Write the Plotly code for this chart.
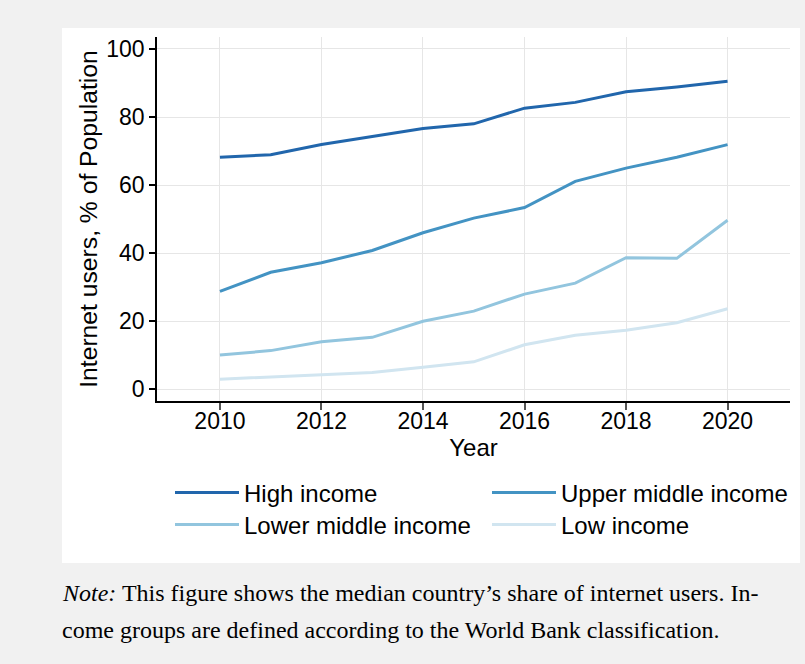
import plotly.graph_objects as go

# Median share of internet users by World Bank income group, 2010-2020
years = [2010, 2011, 2012, 2013, 2014, 2015, 2016, 2017, 2018, 2019, 2020]

high_income = [68.2, 68.9, 71.9, 74.3, 76.6, 78.0, 82.6, 84.3, 87.4, 88.8, 90.5]
upper_middle_income = [28.8, 34.4, 37.2, 40.8, 46.0, 50.3, 53.4, 61.1, 65.0, 68.2, 71.9]
lower_middle_income = [10.1, 11.4, 14.0, 15.3, 20.0, 23.0, 28.0, 31.2, 38.7, 38.5, 49.7]
low_income = [3.0, 3.6, 4.4, 5.0, 6.5, 8.1, 13.1, 15.9, 17.4, 19.6, 23.7]

series_names = ["High income", "Upper middle income", "Lower middle income", "Low income"]
series_values = [high_income, upper_middle_income, lower_middle_income, low_income]
series_colors = ["#2166ac", "#4393c3", "#92c5de", "#d1e5f0"]

x_ticks = [2010, 2012, 2014, 2016, 2018, 2020]
y_ticks = [0, 20, 40, 60, 80, 100]

note_line1 = "<i>Note:</i> This figure shows the median country\u2019s share of internet users. In-"
note_line2 = "come groups are defined according to the World Bank classification."

SANS = "Liberation Sans, Arial, sans-serif"
SERIF = "Liberation Serif, Times New Roman, serif"

W, H = 805, 664
L, R, T, B = 157, 15, 37, 263
pw, ph = W - L - R, H - T - B


def px_x(X):
    return (X - L) / pw


def px_y(Y):
    return (H - B - Y) / ph


# one legend box per entry, laid out as a 2x2 grid under the axes
legend_ids = ["legend", "legend2", "legend3", "legend4"]
legend_pos = [(170, 493), (487, 493), (170, 525), (487, 525)]

fig = go.Figure()
for name, vals, color, lg in zip(series_names, series_values, series_colors, legend_ids):
    fig.add_trace(go.Scatter(
        x=years, y=vals, mode="lines", name=name,
        line=dict(color=color, width=3),
        legend=lg,
    ))

legend_common = dict(
    orientation="h", xanchor="left", yanchor="middle",
    font=dict(family=SANS, size=24, color="black"),
    bgcolor="rgba(0,0,0,0)", borderwidth=0,
    itemwidth=64,
)
legend_layout = {
    lg: dict(x=px_x(px), y=px_y(py), **legend_common)
    for lg, (px, py) in zip(legend_ids, legend_pos)
}

fig.update_layout(
    width=W, height=H,
    margin=dict(l=L, r=R, t=T, b=B),
    paper_bgcolor="#f1f1f1",
    plot_bgcolor="white",
    font=dict(family=SANS, color="black"),
    showlegend=True,
    xaxis=dict(
        range=[2008.76, 2021.23],
        tickvals=x_ticks,
        showgrid=True, gridcolor="#e6e6e6", gridwidth=1,
        zeroline=False,
        showline=True, linecolor="black", linewidth=1.5,
        ticks="outside", ticklen=7, tickcolor="#555555", tickwidth=1.5,
        ticklabelstandoff=-8,
        tickfont=dict(family=SANS, size=23, color="black"),
        title=dict(text="Year", font=dict(family=SANS, size=24, color="black"), standoff=6),
    ),
    yaxis=dict(
        range=[-3.4, 103.5],
        tickvals=y_ticks,
        showgrid=True, gridcolor="#e6e6e6", gridwidth=1,
        zeroline=False,
        showline=True, linecolor="black", linewidth=1.5,
        ticks="outside", ticklen=6, tickcolor="black", tickwidth=1.5,
        tickfont=dict(family=SANS, size=23, color="black"),
        title=dict(text="Internet users, % of Population",
                   font=dict(family=SANS, size=24.7, color="black"), standoff=2),
    ),
    shapes=[dict(
        type="rect", xref="paper", yref="paper", layer="below",
        x0=px_x(62), x1=px_x(800), y0=px_y(563), y1=px_y(28),
        fillcolor="white", line=dict(width=0),
    )],
    annotations=[
        dict(text=note_line1, xref="paper", yref="paper", x=px_x(60), y=px_y(593),
             xanchor="left", yanchor="middle", showarrow=False,
             font=dict(family=SERIF, size=24, color="black")),
        dict(text=note_line2, xref="paper", yref="paper", x=px_x(60), y=px_y(630),
             xanchor="left", yanchor="middle", showarrow=False,
             font=dict(family=SERIF, size=24, color="black")),
    ],
    **legend_layout,
)

fig.write_html("out.html")
